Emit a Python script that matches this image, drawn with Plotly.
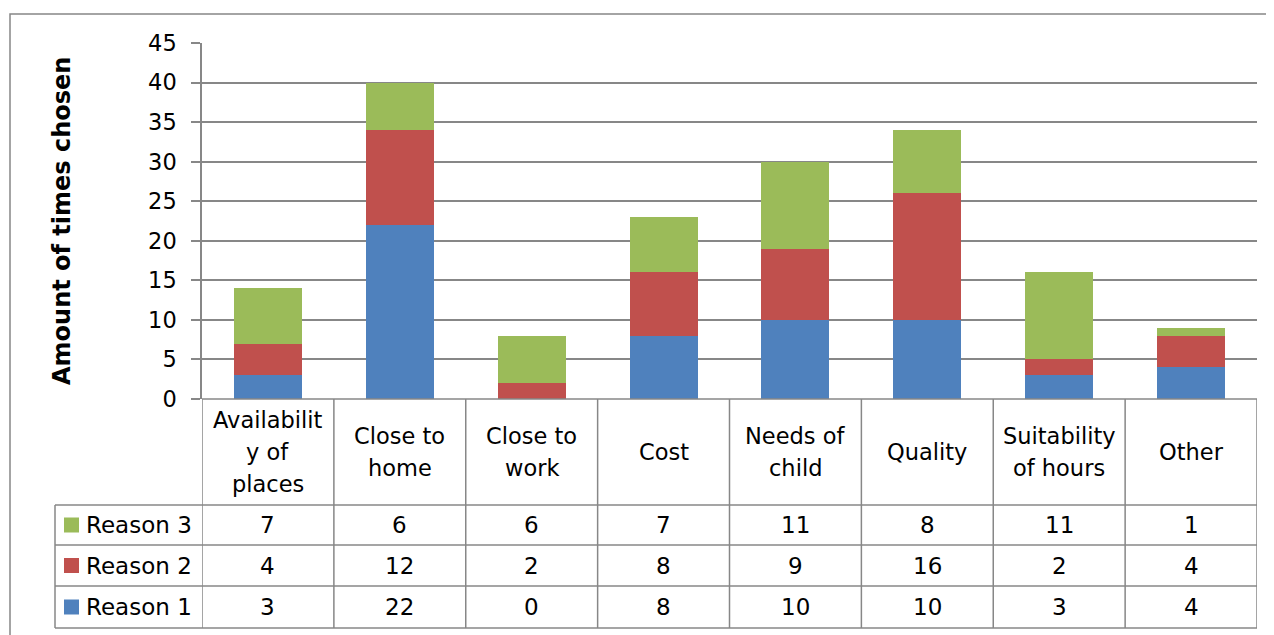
import plotly.graph_objects as go

W, H = 1274, 635

categories = ["Availability of places", "Close to home", "Close to work", "Cost",
              "Needs of child", "Quality", "Suitability of hours", "Other"]
header_labels = ["Availabilit<br>y of<br>places", "Close to<br>home", "Close to<br>work", "Cost",
                 "Needs of<br>child", "Quality", "Suitability<br>of hours", "Other"]
reason1 = [3, 22, 0, 8, 10, 10, 3, 4]
reason2 = [4, 12, 2, 8, 9, 16, 2, 4]
reason3 = [7, 6, 6, 7, 11, 8, 11, 1]
series_names = ["Reason 1", "Reason 2", "Reason 3"]
series_colors = ["#4F81BD", "#C0504D", "#9BBB59"]
y_ticks = [0, 5, 10, 15, 20, 25, 30, 35, 40, 45]

FONT = "DejaVu Sans"
GRID = "#878787"
OFF = 8  # page body margin


def fx(px):
    return (px - OFF) / W


def fy(py):
    return 1 - (py - OFF) / H


fig = go.Figure()
for name, vals, col in zip(series_names, [reason1, reason2, reason3], series_colors):
    fig.add_trace(go.Bar(x=categories, y=vals, name=name, marker=dict(color=col, line=dict(width=0)),
                         showlegend=False))

plot_left, plot_right, plot_top, plot_bottom = 202, 1257, 43, 399
header_bottom = 505
row_lines = [505, 545, 586, 628]
legend_left = 55

shapes = []
shapes.append(dict(type="rect", xref="paper", yref="paper", x0=fx(10), y0=fy(14), x1=fx(1300), y1=fy(670),
                   line=dict(color=GRID, width=1.5), layer="below"))
shapes.append(dict(type="line", xref="paper", yref="paper", x0=fx(plot_left), x1=fx(plot_right),
                   y0=fy(plot_bottom), y1=fy(plot_bottom), line=dict(color=GRID, width=1.5)))
for ry in row_lines:
    shapes.append(dict(type="line", xref="paper", yref="paper", x0=fx(legend_left), x1=fx(plot_right),
                       y0=fy(ry), y1=fy(ry), line=dict(color=GRID, width=1.5)))
shapes.append(dict(type="line", xref="paper", yref="paper", x0=fx(legend_left), x1=fx(legend_left),
                   y0=fy(header_bottom), y1=fy(row_lines[-1]), line=dict(color=GRID, width=1.5)))
for i in range(len(categories) + 1):
    shapes.append(dict(type="line", xref="x", yref="paper", x0=i - 0.5, x1=i - 0.5,
                       y0=fy(plot_bottom), y1=fy(row_lines[-1]), line=dict(color=GRID, width=1.5)))

annotations = []
annotations.append(dict(text="<b>Amount of times chosen</b>", xref="paper", yref="paper",
                        x=fx(62), y=fy((plot_top + plot_bottom) / 2), textangle=-90,
                        xanchor="center", yanchor="middle",
                        showarrow=False, font=dict(family=FONT, size=24, color="#000000")))
LINE_H = 32
header_cy = (plot_bottom + header_bottom) / 2
for i, lab in enumerate(header_labels):
    lines = lab.split("<br>")
    n = len(lines)
    for k, line in enumerate(lines):
        ly = header_cy + (k - (n - 1) / 2) * LINE_H
        annotations.append(dict(text=line, xref="x", yref="paper", x=i, y=fy(ly),
                                xanchor="center", yanchor="middle",
                                showarrow=False, font=dict(family=FONT, size=22.5, color="#000000")))
rows = [(series_names[2], reason3, series_colors[2]),
        (series_names[1], reason2, series_colors[1]),
        (series_names[0], reason1, series_colors[0])]
for r, (name, vals, col) in enumerate(rows):
    top, bot = row_lines[r], row_lines[r + 1]
    cy = (top + bot) / 2
    for i, v in enumerate(vals):
        annotations.append(dict(text=str(v), xref="x", yref="paper", x=i, y=fy(cy), showarrow=False,
                                xanchor="center", yanchor="middle",
                                font=dict(family=FONT, size=23, color="#000000")))
    shapes.append(dict(type="rect", xref="paper", yref="paper", x0=fx(64), x1=fx(79),
                       y0=fy(cy - 7.5), y1=fy(cy + 7.5), fillcolor=col, line=dict(width=0)))
    annotations.append(dict(text=name, xref="paper", yref="paper", x=fx(84), y=fy(cy),
                            xanchor="left", yanchor="middle",
                            showarrow=False, font=dict(family=FONT, size=23, color="#000000")))

fig.update_layout(
    width=W, height=H,
    autosize=False,
    margin=dict(l=0, r=0, t=0, b=0, pad=0),
    paper_bgcolor="white", plot_bgcolor="white",
    barmode="stack", bargap=0.485,
    font=dict(family=FONT, size=22, color="#000000"),
    xaxis=dict(domain=[fx(plot_left), fx(plot_right)], range=[-0.5, 7.5], showticklabels=False,
               showgrid=False, zeroline=False, showline=False, ticks="", automargin=False),
    yaxis=dict(domain=[fy(plot_bottom), fy(plot_top)], range=[0, 45], tickvals=y_ticks,
               showgrid=True, gridcolor=GRID, gridwidth=1.5, zeroline=False,
               showline=True, linecolor=GRID, linewidth=1.5, automargin=False,
               ticks="outside", ticklen=9, tickcolor=GRID, tickwidth=1.5,
               ticklabelstandoff=10, tickfont=dict(family=FONT, size=22.5, color="#000000")),
    shapes=shapes, annotations=annotations,
)

fig.write_html("out.html")
